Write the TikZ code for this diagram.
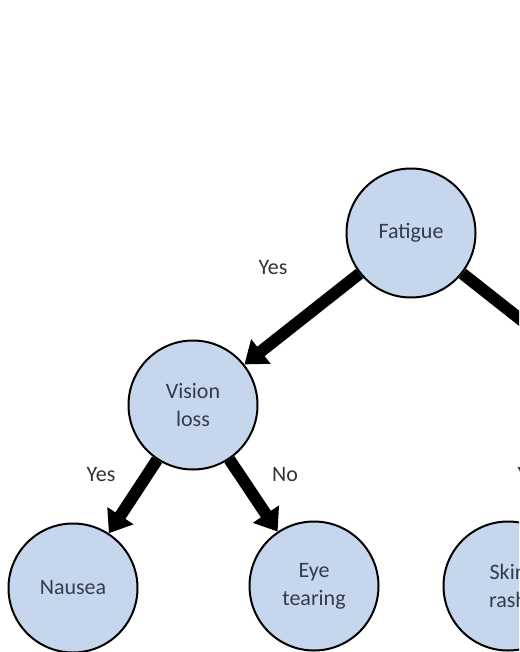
\documentclass[tikz,border=0pt]{standalone}
\usepackage{fontspec}
\setmainfont{Carlito}
\usetikzlibrary{arrows.meta}
\definecolor{nodeblue}{RGB}{198,214,236}
\definecolor{nodetext}{RGB}{50,60,78}

\begin{document}
\begin{tikzpicture}[x=1pt,y=-1pt,
  symptom/.style={circle, draw=black, line width=2pt, fill=nodeblue,
    minimum size=129pt, inner sep=0pt, align=center, text=nodetext,
    font=\fontsize{22}{28}\selectfont},
  answer/.style={text=black!80, font=\fontsize{22}{26}\selectfont},
  branch/.style={line width=12pt, -{Triangle[width=30pt,length=21pt]}}]
\useasboundingbox (0,0) rectangle (519,652);
\clip (0,0) rectangle (519,652);

% nodes
\node[symptom] (fatigue) at (411,233) {Fatigue};
\node[symptom] (vision) at (193,405) {Vision\\loss};
\node[symptom] (nausea) at (73,588) {Nausea};
\node[symptom] (tearing) at (314,586) {Eye\\tearing};
\node[symptom] (skin) at (508,586) {Skin\\rash};
\coordinate (right) at (629,405);% off the page

% branches
\draw[branch] (fatigue) -- (vision);
\draw[branch] (fatigue) -- (right);
\draw[branch] (vision) -- (nausea);
\draw[branch] (vision) -- (tearing);

% answers
\node[answer] (yes1) at (273,268) {Yes};
\node[answer] (yes2) at (101,475) {Yes};
\node[answer] (no2) at (285,475) {No};
\node[answer] (yes3) at (532,475) {Yes};
\end{tikzpicture}
\end{document}
